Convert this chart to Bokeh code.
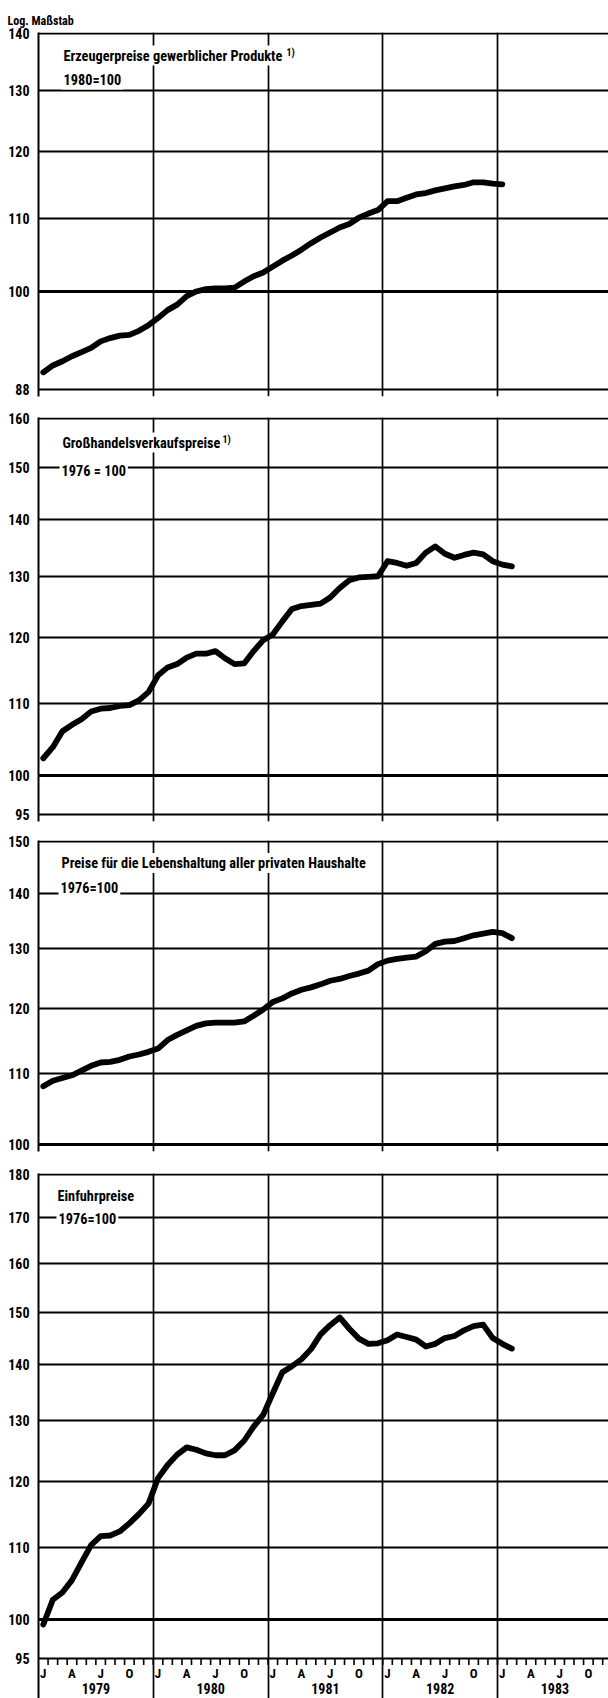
import math

from bokeh.embed import file_html
from bokeh.layouts import column
from bokeh.models import FixedTicker, Grid, Label, Range1d, Title
from bokeh.core.properties import value
from bokeh.plotting import figure
from bokeh.resources import INLINE

# ---------------------------------------------------------------------------
# Monthly index values, starting January 1979
# ---------------------------------------------------------------------------
erzeugerpreise = [
    90.0, 90.8, 91.3, 91.9, 92.4, 92.9, 93.7, 94.1, 94.4, 94.5, 95.0, 95.7,
    96.6, 97.6, 98.3, 99.4, 100.0, 100.3, 100.4, 100.4, 100.5, 101.3, 102.0, 102.5,
    103.3, 104.1, 104.8, 105.6, 106.5, 107.3, 108.0, 108.7, 109.2, 110.1, 110.7, 111.2,
    112.5, 112.5, 113.0, 113.5, 113.7, 114.1, 114.4, 114.7, 114.9, 115.3, 115.3, 115.1,
    115.0,
]
grosshandel = [
    102.3, 103.8, 106.0, 106.9, 107.7, 108.8, 109.2, 109.3, 109.6, 109.7, 110.4, 111.6,
    114.1, 115.3, 115.8, 116.8, 117.4, 117.4, 117.8, 116.7, 115.8, 115.9, 117.8, 119.5,
    120.4, 122.5, 124.5, 125.0, 125.2, 125.4, 126.4, 128.0, 129.3, 129.8, 129.9, 130.0,
    132.6, 132.3, 131.8, 132.3, 134.1, 135.2, 133.9, 133.2, 133.7, 134.1, 133.8, 132.6,
    132.0, 131.7,
]
lebenshaltung = [
    108.1, 108.9, 109.3, 109.7, 110.4, 111.1, 111.6, 111.7, 112.0, 112.5, 112.8, 113.2,
    113.7, 115.0, 115.8, 116.5, 117.2, 117.6, 117.7, 117.7, 117.7, 117.9, 118.8, 119.8,
    121.0, 121.6, 122.4, 123.0, 123.4, 123.9, 124.5, 124.8, 125.3, 125.7, 126.2, 127.3,
    127.9, 128.2, 128.4, 128.6, 129.5, 130.8, 131.2, 131.3, 131.8, 132.3, 132.6, 132.9,
    132.7, 131.8,
]
einfuhrpreise = [
    99.3, 102.6, 103.6, 105.3, 107.8, 110.3, 111.6, 111.7, 112.3, 113.5, 114.9, 116.5,
    120.5, 122.6, 124.3, 125.5, 125.1, 124.5, 124.2, 124.2, 125.0, 126.6, 129.0, 131.0,
    134.8, 138.6, 139.7, 141.0, 142.9, 145.7, 147.5, 149.0, 146.8, 144.9, 143.9, 144.0,
    144.6, 145.7, 145.2, 144.7, 143.4, 143.9, 145.0, 145.4, 146.5, 147.3, 147.6, 145.0,
    143.9, 143.0,
]

years = [1979, 1980, 1981, 1982, 1983]
year_labels = ["1979", "1980", "1981", "1982", "1983"]
quarter_months = [0, 3, 6, 9]
quarter_letters = ["J", "A", "J", "O"]

ticks_p1 = [88, 100, 110, 120, 130, 140]
ticks_p2 = [95, 100, 110, 120, 130, 140, 150, 160]
ticks_p3 = [100, 110, 120, 130, 140, 150]
ticks_p4 = [95, 100, 110, 120, 130, 140, 150, 160, 170, 180]

# ---------------------------------------------------------------------------
# Layout constants
# ---------------------------------------------------------------------------
FONT = "'Roboto Condensed', 'DejaVu Sans Condensed', sans-serif"
FRAME_W = 570
PX_PER_YEAR = 114.75
X0 = float(years[0])
X1 = X0 + FRAME_W / PX_PER_YEAR


def month_x(i):
    """Centre of month i (0 = January of the first year)."""
    return X0 + (i + 0.5) / 12.0


def px_to_x(px):
    return X0 + (px - 38) / PX_PER_YEAR


def make_panel(values, ticks, main_h, ext_below, border_top, border_bottom):
    top, bottom = max(ticks), min(ticks)
    k = main_h / math.log(top / bottom)
    y_start = bottom * math.exp(-ext_below / k)
    y_end = top * math.exp(1.0 / k)
    p = figure(
        title=None,
        frame_width=FRAME_W,
        frame_height=int(round(main_h + ext_below + 1)),
        x_range=Range1d(X0, X1),
        y_range=Range1d(y_start, y_end),
        y_axis_type="log",
        x_axis_location=None,
        toolbar_location=None,
        output_backend="svg",
        min_border_left=38,
        min_border_right=0,
        min_border_top=border_top,
        min_border_bottom=border_bottom,
        outline_line_color=None,
        background_fill_color="white",
        border_fill_color="white",
    )
    ax = p.yaxis[0]
    ax.ticker = FixedTicker(ticks=ticks)
    ax.major_label_overrides = {t: str(t) for t in ticks}
    ax.axis_line_color = "black"
    ax.axis_line_width = 2
    ax.major_tick_in = 0
    ax.major_tick_out = 0
    ax.minor_tick_line_color = None
    ax.major_label_standoff = 9
    ax.major_label_text_font = FONT
    ax.major_label_text_font_style = "bold"
    ax.major_label_text_font_size = "14px"
    ax.major_label_text_color = "black"

    g = p.ygrid[0]
    g.ticker = FixedTicker(ticks=ticks)
    g.grid_line_color = "black"
    g.grid_line_width = 1.8
    g.grid_line_alpha = 1.0

    # heavier base line at 100
    p.add_layout(Grid(dimension=1, ticker=FixedTicker(ticks=[100]),
                      grid_line_color="black", grid_line_width=3))
    # year separators
    p.add_layout(Grid(dimension=0, ticker=FixedTicker(ticks=years[1:]),
                      grid_line_color="black", grid_line_width=1.7))

    p.line(x=[month_x(i) for i in range(len(values))], y=values,
           line_color="black", line_width=5.8, line_join="round", line_cap="round")
    return p, k, top


def add_text(p, k, top, px, py, text, size="14.3px"):
    p.add_layout(Label(
        x=px_to_x(px), y=top * math.exp(-py / k), text=text,
        text_font=FONT, text_font_style="bold", text_font_size=size,
        text_color="black", text_align="left", text_baseline="middle",
        background_fill_color="white", padding=2,
    ))


# Erzeugerpreise gewerblicher Produkte
p1, k1, t1 = make_panel(erzeugerpreise, ticks_p1, 356, 7, 32, 8)
add_text(p1, k1, t1, 61, 22, "Erzeugerpreise gewerblicher Produkte")
add_text(p1, k1, t1, 284, 19, "1)", size="10px")
add_text(p1, k1, t1, 61, 46, "1980=100")
p1.add_layout(Title(text="Log. Maßstab", align="left", offset=-31,
                    text_font=FONT, text_font_style="bold", text_font_size="12px",
                    text_color="black", standoff=10), "above")

# Großhandelsverkaufspreise
p2, k2, t2 = make_panel(grosshandel, ticks_p2, 396, 7, 13, 7)
add_text(p2, k2, t2, 60, 24, "Großhandelsverkaufspreise")
add_text(p2, k2, t2, 220, 21, "1)", size="10px")
add_text(p2, k2, t2, 59, 52, "1976 = 100")

# Preise für die Lebenshaltung aller privaten Haushalte
p3, k3, t3 = make_panel(lebenshaltung, ticks_p3, 303, 7, 12, 8)
add_text(p3, k3, t3, 59, 21.6, "Preise für die Lebenshaltung aller privaten Haushalte")
add_text(p3, k3, t3, 58, 46, "1976=100")

# Einfuhrpreise, with the time axis drawn inside the frame's lower strip
p4, k4, t4 = make_panel(einfuhrpreise, ticks_p4, 483.5, 40.5, 14, 0)
add_text(p4, k4, t4, 55, 21, "Einfuhrpreise")
add_text(p4, k4, t4, 56, 44.7, "1976=100")

base = min(ticks_p4)
n_months = 12 * len(years)
bounds = [X0 + j / 12.0 for j in range(1, n_months)]
p4.segment(x0=bounds, x1=bounds, y0=[base] * len(bounds),
           y1=[base * math.exp(-7 / k4)] * len(bounds),
           line_color="black", line_width=1.6)

mx, mt = [], []
for yi, yr in enumerate(years):
    for m, letter in zip(quarter_months, quarter_letters):
        mx.append(month_x(yi * 12 + m))
        mt.append(letter)
p4.text(x=mx, y=[base * math.exp(-15 / k4)] * len(mx), text=mt,
        text_font=value(FONT), text_font_style="bold", text_font_size="13px",
        text_align="center", text_baseline="middle", text_color="black")
p4.text(x=[yr + 0.5 for yr in years], y=[base * math.exp(-30.5 / k4)] * len(years),
        text=year_labels, text_font=value(FONT), text_font_style="bold",
        text_font_size="14px", text_align="center", text_baseline="middle",
        text_color="black")

layout = column(p1, p2, p3, p4, spacing=0)
open("out.html", "w").write(file_html(layout, INLINE))
